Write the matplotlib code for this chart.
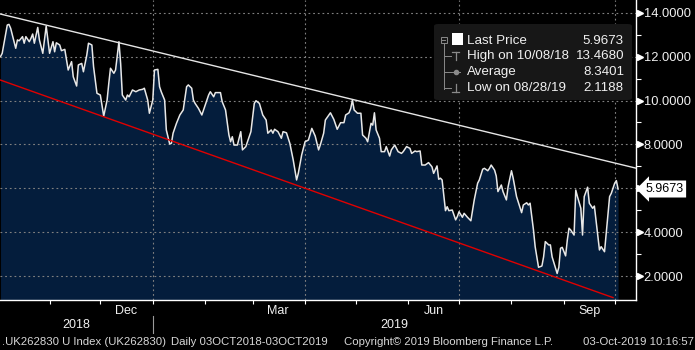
import numpy as np
import matplotlib.pyplot as plt
import matplotlib.dates as mdates
import matplotlib.transforms as mtransforms
from matplotlib.patches import FancyBboxPatch, Rectangle
from matplotlib.lines import Line2D

plt.rcParams['font.family'] = ['Liberation Sans', 'DejaVu Sans']

# UK262830 index, daily closes (days counted from 03 Oct 2018)
start = np.datetime64('2018-10-03')
days = [0, 1, 4, 5, 6, 9, 10, 11, 13, 14, 15, 17, 18, 19, 20, 22, 23, 25, 27, 29,
        31, 32, 33, 35, 36, 38, 39, 40, 42, 43, 45, 46, 48, 49, 51, 52, 54, 55, 57, 59,
        61, 63, 64, 65, 67, 68, 70, 71, 72, 74, 75, 76, 78, 80, 82, 84, 85, 87, 88, 90,
        91, 93, 94, 95, 97, 98, 100, 101, 102, 104, 106, 108, 110, 111, 113, 114, 115, 117, 119, 121,
        123, 124, 126, 127, 130, 131, 133, 135, 136, 137, 138, 140, 142, 143, 145, 148, 150, 151, 153, 155,
        157, 158, 160, 161, 162, 164, 166, 167, 169, 171, 173, 175, 176, 178, 180, 182, 184, 186, 188, 189,
        191, 192, 195, 197, 199, 201, 203, 204, 206, 207, 208, 209, 211, 213, 214, 216, 217, 219, 220, 221,
        222, 224, 225, 227, 228, 230, 231, 233, 235, 237, 238, 240, 242, 243, 245, 246, 248, 249, 251, 253,
        255, 256, 258, 259, 260, 261, 263, 264, 265, 267, 269, 270, 271, 273, 274, 276, 278, 280, 282, 283,
        285, 286, 288, 289, 290, 292, 293, 294, 296, 297, 299, 300, 302, 303, 305, 308, 309, 311, 312, 313,
        315, 316, 318, 320, 321, 322, 324, 325, 326, 329, 330, 331, 332, 334, 335, 336, 337, 339, 340, 341,
        343, 344, 345, 347, 348, 350, 351, 353, 354, 355, 357, 358, 360, 361, 363, 364, 365]
price = [12.00, 12.15, 13.44, 13.468, 13.29, 12.38, 12.76, 12.72, 12.91, 12.61, 12.91, 12.68, 12.83, 13.03, 12.61, 13.33, 12.76, 12.15, 13.39, 12.15,
         12.68, 12.22, 12.63, 12.53, 12.27, 12.33, 11.85, 11.39, 11.77, 11.08, 10.66, 11.62, 11.69, 11.31, 12.07, 12.61, 12.53, 11.54, 10.33, 10.25,
         9.29, 10.02, 10.78, 11.47, 11.24, 11.39, 12.68, 11.69, 10.25, 10.02, 10.25, 10.17, 10.48, 10.40, 10.48, 10.51, 10.56, 10.02, 9.42, 10.02,
         11.39, 11.42, 10.63, 10.40, 10.02, 8.66, 8.02, 8.05, 8.51, 8.96, 9.34, 9.57, 10.63, 10.71, 10.56, 10.02, 9.87, 9.64, 9.34, 9.80,
         10.25, 10.40, 10.17, 10.36, 10.36, 9.95, 9.57, 8.43, 8.12, 8.35, 7.97, 7.97, 8.58, 7.75, 7.90, 8.58, 9.87, 9.99, 9.87, 9.34,
         9.11, 8.51, 8.66, 8.51, 8.69, 8.58, 8.28, 8.58, 8.53, 8.05, 7.29, 6.38, 6.68, 7.52, 8.12, 8.20, 8.73, 8.38, 7.75, 7.97,
         8.51, 9.11, 9.44, 9.14, 8.69, 8.99, 8.99, 9.34, 9.44, 9.64, 10.02, 9.57, 9.42, 9.42, 8.43, 8.28, 8.12, 8.96, 8.88, 9.44,
         8.66, 8.28, 7.67, 7.67, 7.90, 7.47, 7.75, 7.97, 7.67, 7.59, 7.67, 7.90, 7.82, 7.59, 7.70, 7.67, 7.70, 7.06, 7.06, 7.17,
         6.98, 6.68, 7.02, 6.41, 6.46, 6.38, 4.98, 5.16, 4.98, 5.01, 4.56, 4.71, 4.93, 4.68, 4.86, 4.68, 4.52, 5.47, 6.23, 6.38,
         6.87, 6.91, 6.80, 6.91, 7.06, 6.83, 6.56, 5.85, 6.15, 5.85, 5.47, 6.07, 6.80, 6.46, 5.62, 4.89, 5.24, 5.34, 5.24, 5.32,
         4.10, 3.34, 2.40, 2.46, 2.88, 3.57, 3.42, 3.42, 2.88, 2.1188, 2.40, 3.27, 3.31, 2.92, 3.64, 4.18, 4.10, 3.87, 5.92, 5.62,
         5.09, 3.87, 5.62, 6.05, 5.32, 5.09, 5.19, 3.87, 3.19, 3.34, 3.11, 3.95, 5.62, 5.77, 6.23, 6.35, 5.9673]
average = 8.3401

# hand-drawn trend channel
resist_days = [0, 376]
resist_vals = [13.94, 6.91]
support_days = [0, 362]
support_vals = [10.93, 1.02]

y_ticks = [2, 4, 6, 8, 10, 12, 14]
y_minor = [3, 5, 7, 9, 11, 13]
quarter_starts = ['2019-01-01', '2019-04-01', '2019-07-01', '2019-10-01']

dates = start + np.array(days, dtype='timedelta64[D]')
price = np.array(price)

BG = 'black'
FILL = '#041d3c'
FG = '#f0f0f0'
W, H = 695, 350


def fx(x):
    return x / W


def fy(y):
    return 1 - y / H


fig = plt.figure(figsize=(W / 100, H / 100), dpi=100, facecolor=BG)
ax = fig.add_axes([0, 50 / H, 636 / W, 300 / H])
ax.set_facecolor(BG)

ymin = 0.91
ax.fill_between(dates, price, ymin, color=FILL, lw=0, zorder=1)
ax.plot(dates, price, color='#e8e8e8', lw=1.1, zorder=4)

t0 = mdates.date2num(start)
ax.plot(t0 + np.array(resist_days), resist_vals, color='#e6e6e6', lw=1.0, zorder=5)
ax.plot(t0 + np.array(support_days), support_vals, color='#e00000', lw=1.0, zorder=5)

ax.set_xlim(t0 - 0.3, t0 + 375.6)
ax.set_ylim(ymin, 14.58)

# grid
dash = dict(color='#808080', lw=0.8, ls=(0, (1.6, 2.6)), zorder=2)
for v in y_ticks:
    ax.axhline(v, **dash)
for q in quarter_starts:
    ax.axvline(mdates.date2num(np.datetime64(q)), **dash)

for s in ['top', 'left']:
    ax.spines[s].set_visible(False)
ax.spines['right'].set_color('white')
ax.spines['bottom'].set_color('white')
ax.spines['right'].set_linewidth(1.0)
ax.spines['bottom'].set_linewidth(1.0)

# right axis
ax.yaxis.tick_right()
ax.set_yticks(y_ticks)
ax.set_yticklabels(['' if v == 6 else f'{v:.4f}' for v in y_ticks])
ax.set_yticks(y_minor, minor=True)
ax.tick_params(axis='y', which='major', length=0, pad=5.5, labelsize=9.3, labelcolor=FG)
ax.tick_params(axis='y', which='minor', length=3.5, width=0.8, color='white', direction='out')
tri = mtransforms.blended_transform_factory(ax.transAxes, ax.transData)
ax.plot([1.0] * len(y_ticks), y_ticks, ls='none', marker='>', ms=4.5, color='white',
        transform=tri + mtransforms.ScaledTranslation(3.5 / 100, 0, fig.dpi_scale_trans),
        clip_on=False, zorder=6)

# last price tag
last = price[-1]
ax.text(1.0, last, f'{last:.4f}', transform=tri + mtransforms.ScaledTranslation(9.5 / 100, 0, fig.dpi_scale_trans),
        ha='left', va='center', fontsize=9, color='black', clip_on=False,
        bbox=dict(boxstyle='larrow,pad=0.2', fc='white', ec='none'))

# bottom axis
ax.xaxis.set_major_locator(mdates.MonthLocator())
ax.xaxis.set_major_formatter(plt.NullFormatter())
ax.xaxis.set_minor_locator(mdates.MonthLocator(bymonth=[12, 3, 6, 9], bymonthday=16))
ax.xaxis.set_minor_formatter(mdates.DateFormatter('%b'))
ax.tick_params(axis='x', which='major', length=3, width=0.8, color='white', direction='out')
ax.tick_params(axis='x', which='minor', length=0, pad=3.5, labelsize=9, labelcolor=FG)

year_tr = mtransforms.blended_transform_factory(ax.transData, fig.transFigure)
jan1 = mdates.date2num(np.datetime64('2019-01-01'))
x_end = ax.get_xlim()[1]
ax.text((t0 + jan1) / 2, fy(324.5), '2018', transform=year_tr, ha='center', va='center',
        fontsize=9, color=FG, clip_on=False)
ax.text((jan1 + x_end) / 2, fy(324.5), '2019', transform=year_tr, ha='center', va='center',
        fontsize=9, color=FG, clip_on=False)
ax.add_line(Line2D([jan1, jan1], [fy(316), fy(333)], transform=year_tr, color='#9a9a9a',
                   lw=0.8, clip_on=False))

# footer
foot = dict(fontsize=8.2, color='#d8d8d8', va='center')
fig.text(fx(2), fy(342), '.UK262830 U Index (UK262830)', **foot)
fig.text(fx(171), fy(342), 'Daily 03OCT2018-03OCT2019', **foot)
fig.text(fx(344), fy(342), 'Copyright\u00a9 2019 Bloomberg Finance L.P.', **foot)
fig.text(fx(694), fy(342), '03-Oct-2019 10:16:57', ha='right', **foot)

# statistics box
box = FancyBboxPatch((fx(434), fy(100)), fx(632) - fx(434), (100 - 24) / H,
                     boxstyle='round,pad=0,rounding_size=0.006', transform=fig.transFigure,
                     fc='#171717', ec='none', zorder=10)
fig.add_artist(box)

hi = int(np.argmax(price))
lo = int(np.argmin(price))
hi_date = dates[hi].astype(object).strftime('%m/%d/%y')
lo_date = dates[lo].astype(object).strftime('%m/%d/%y')
rows = [('Last Price', f'{last:.4f}'),
        (f'High on {hi_date}', f'{price[hi]:.4f}'),
        ('Average', f'{average:.4f}'),
        (f'Low on {lo_date}', f'{price[lo]:.4f}')]
row_y = [40.7, 55.9, 72.2, 88.2]
for (lab, val), yy in zip(rows, row_y):
    fig.text(fx(467), fy(yy), lab, fontsize=9.6, color=FG, va='center', zorder=11)
    fig.text(fx(624), fy(yy), val, fontsize=9.6, color=FG, va='center', ha='right', zorder=11)

gray = '#8a8a8a'
tf = fig.transFigure
fig.add_artist(Rectangle((fx(440.5), fy(42.5)), 6 / W, 6 / H, transform=tf, fill=False, ec=gray, lw=0.7, zorder=11))
fig.add_artist(Line2D([fx(441.8), fx(445.3)], [fy(39.5), fy(39.5)], transform=tf, color=gray, lw=0.7, zorder=11))
fig.add_artist(Line2D([fx(443.5), fx(443.5)], [fy(42.5), fy(88.5)], transform=tf, color=gray, lw=0.7, zorder=11))
for yy in row_y[1:]:
    fig.add_artist(Line2D([fx(443.5), fx(451)], [fy(yy), fy(yy)], transform=tf, color=gray, lw=0.7, zorder=11))
fig.add_artist(Rectangle((fx(452), fy(45)), 11 / W, 12 / H, transform=tf, fc='white', ec='none', zorder=11))
# high / average / low glyphs
fig.add_artist(Line2D([fx(455.5), fx(455.5)], [fy(51.5), fy(60)], transform=tf, color=gray, lw=0.9, zorder=11))
fig.add_artist(Line2D([fx(452.5), fx(458.5)], [fy(51.5), fy(51.5)], transform=tf, color=gray, lw=0.9, zorder=11))
fig.add_artist(Line2D([fx(451), fx(460)], [fy(72.2), fy(72.2)], transform=tf, color=gray, lw=0.7, zorder=11))
fig.add_artist(Line2D([fx(455.5)], [fy(72.2)], transform=tf, color=gray, marker='o', ms=3, zorder=12))
fig.add_artist(Line2D([fx(455.5), fx(455.5)], [fy(83.5), fy(92)], transform=tf, color=gray, lw=0.9, zorder=11))
fig.add_artist(Line2D([fx(452.5), fx(458.5)], [fy(92), fy(92)], transform=tf, color=gray, lw=0.9, zorder=11))

fig.savefig('out.png', dpi=100, facecolor=BG)
